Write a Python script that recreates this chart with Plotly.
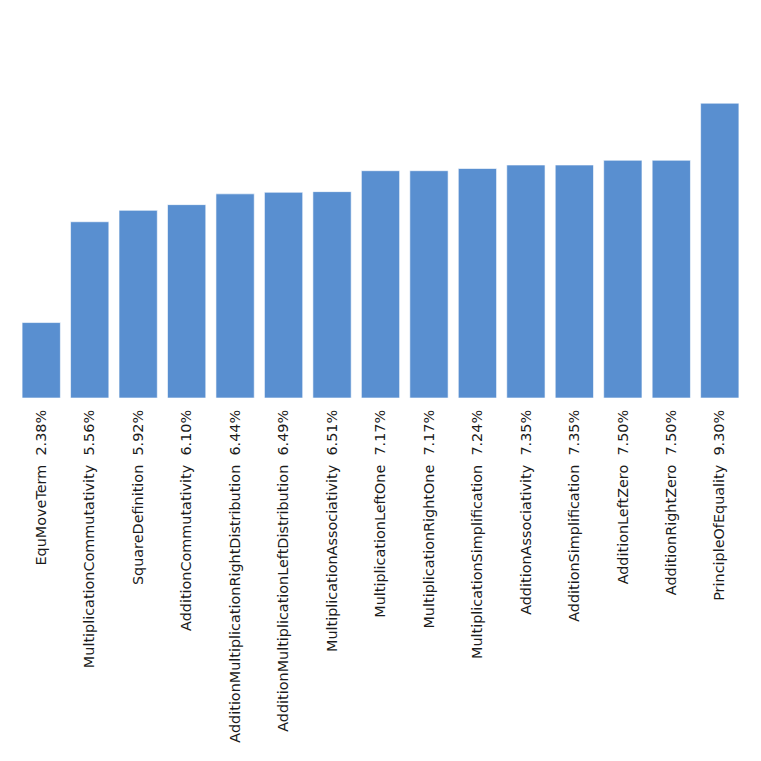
import plotly.graph_objects as go

categories = ["EquMoveTerm", "MultiplicationCommutativity", "SquareDefinition",
              "AdditionCommutativity", "AdditionMultiplicationRightDistribution",
              "AdditionMultiplicationLeftDistribution", "MultiplicationAssociativity",
              "MultiplicationLeftOne", "MultiplicationRightOne", "MultiplicationSimplification",
              "AdditionAssociativity", "AdditionSimplification", "AdditionLeftZero",
              "AdditionRightZero", "PrincipleOfEquality"]
values = [2.38, 5.56, 5.92, 6.10, 6.44, 6.49, 6.51, 7.17, 7.17, 7.24, 7.35, 7.35, 7.50, 7.50, 9.30]
tick_labels = [f"{c}\u00a0\u00a0{v:.2f}%" for c, v in zip(categories, values)]

fig = go.Figure(go.Bar(
    x=categories, y=values,
    marker=dict(color="#598fd0", line=dict(color="rgba(255,255,255,0.6)", width=1)),
    width=0.79,
))
fig.update_layout(
    width=761, height=761,
    margin=dict(l=9, r=25, t=73, b=371),
    paper_bgcolor="white", plot_bgcolor="white",
    showlegend=False,
    font=dict(family="DejaVu Sans", size=14.4, color="#1a1a1a"),
)
fig.update_xaxes(tickmode="array", tickvals=categories, ticktext=tick_labels,
                 tickangle=-90, showgrid=False, showline=False, zeroline=False,
                 ticks="", automargin=False, ticklabelstandoff=8,
                 range=[-0.5, len(categories) - 0.5])
fig.update_yaxes(visible=False, range=[0, 10], showgrid=False, zeroline=False)
fig.write_html("out.html")
